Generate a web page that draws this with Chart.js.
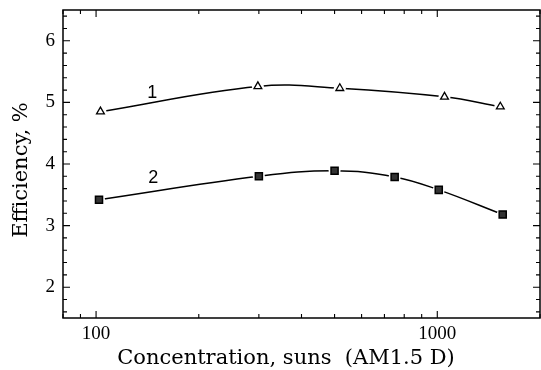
<!DOCTYPE html>
<html>
<head>
<meta charset="utf-8">
<script src="https://cdn.jsdelivr.net/npm/chart.js@4.4.1/dist/chart.umd.min.js"></script>
<style>
  html, body { margin: 0; padding: 0; background: #fff; }
  #wrap { width: 541px; height: 370px; }
</style>
</head>
<body>
<div id="wrap"><canvas id="effChart"></canvas></div>
<script>
// ── DATA ──────────────────────────────────────
const concentration1 = [103, 298, 518, 1050, 1530];
const efficiency1    = [4.85, 5.26, 5.23, 5.09, 4.93];

const concentration2 = [102, 300, 500, 750, 1010, 1555];
const efficiency2    = [3.42, 3.80, 3.89, 3.79, 3.58, 3.18];

const xTickValues = [100, 1000];
const yTickValues = [2, 3, 4, 5, 6];

const curveLabels = [
    { text: '1', x: 146, y: 5.16 },
    { text: '2', x: 147, y: 3.78 }
];

const xTitle = 'Concentration, suns  (AM1.5 D)';
const yTitle = 'Efficiency, %';

// ── HELPERS ───────────────────────────────────
const toPoints = (xs, ys) => xs.map((x, i) => ({ x, y: ys[i] }));

// no extra room for half tick labels at the ends
const noEdgePadding = s => {
    s.paddingTop = 0; s.paddingBottom = 0;
    s.paddingLeft = 0; s.paddingRight = 0;
};

// frame with inward ticks, curve numbers and axis titles
const framePlugin = {
    id: 'frame',
    afterDraw(chart) {
        const { ctx, chartArea: a, scales: { x, y } } = chart;
        ctx.save();
        ctx.strokeStyle = '#000';
        ctx.lineWidth = 1.5;
        ctx.strokeRect(a.left, a.top, a.right - a.left, a.bottom - a.top);

        ctx.lineWidth = 1.1;
        ctx.beginPath();
        for (let i = 8; i <= 32; i++) {
            const py = y.getPixelForValue(i / 5);
            const len = i % 5 === 0 ? 7 : 4;
            ctx.moveTo(a.left, py);  ctx.lineTo(a.left + len, py);
            ctx.moveTo(a.right, py); ctx.lineTo(a.right - len, py);
        }
        for (let dec = 10; dec <= 1000; dec *= 10) {
            for (let m = 1; m <= 9; m++) {
                const v = dec * m;
                if (v < x.min || v > x.max) continue;
                const px = x.getPixelForValue(v);
                const len = m === 1 ? 7 : 4;
                ctx.moveTo(px, a.bottom); ctx.lineTo(px, a.bottom - len);
                ctx.moveTo(px, a.top);    ctx.lineTo(px, a.top + len);
            }
        }
        ctx.stroke();

        ctx.fillStyle = '#000';
        ctx.textAlign = 'center';
        ctx.textBaseline = 'middle';
        ctx.font = '18px "Liberation Sans"';
        curveLabels.forEach(l => {
            ctx.fillText(l.text, x.getPixelForValue(l.x), y.getPixelForValue(l.y));
        });

        ctx.textBaseline = 'alphabetic';
        ctx.font = '21px "DejaVu Serif"';
        ctx.fillText(xTitle, 286, 364);
        ctx.translate(27, 170);
        ctx.rotate(-Math.PI / 2);
        ctx.fillText(yTitle, 0, 0);
        ctx.restore();
    }
};

const lineSet = (data) => ({
    data,
    borderColor: '#000',
    borderWidth: 1.5,
    tension: 0.4,
    pointRadius: 6,
    pointStyle: 'circle',
    pointBackgroundColor: '#fff',
    pointBorderWidth: 0,
    order: 2
});

new Chart(document.getElementById('effChart').getContext('2d'), {
    type: 'line',
    data: {
        datasets: [
            lineSet(toPoints(concentration1, efficiency1)),
            lineSet(toPoints(concentration2, efficiency2)),
            {
                data: toPoints(concentration1, efficiency1),
                showLine: false,
                pointStyle: 'triangle',
                pointRadius: 4.5,
                pointBackgroundColor: '#fff',
                pointBorderColor: '#000',
                pointBorderWidth: 1.3,
                order: 1
            },
            {
                data: toPoints(concentration2, efficiency2),
                showLine: false,
                pointStyle: 'rect',
                pointRadius: 5,
                pointBackgroundColor: '#333',
                pointBorderColor: '#000',
                pointBorderWidth: 1.5,
                order: 1
            }
        ]
    },
    options: {
        responsive: true,
        maintainAspectRatio: false,
        animation: false,
        events: [],
        layout: { autoPadding: false, padding: { left: 0, top: 10, right: 1, bottom: 0 } },
        plugins: { legend: { display: false }, tooltip: { enabled: false } },
        scales: {
            x: {
                type: 'logarithmic',
                min: 80, max: 2000,
                grid: { display: false, drawTicks: false },
                border: { display: false },
                afterBuildTicks: s => { s.ticks = xTickValues.map(v => ({ value: v })); },
                afterFit: s => { s.height = 52; noEdgePadding(s); },
                ticks: {
                    color: '#000', padding: 5, maxRotation: 0,
                    font: { family: '"Liberation Serif"', size: 19 },
                    callback: v => String(v)
                }
            },
            y: {
                min: 1.5, max: 6.5,
                grid: { display: false, drawTicks: false },
                border: { display: false },
                afterBuildTicks: s => { s.ticks = yTickValues.map(v => ({ value: v })); },
                afterFit: s => { s.width = 63; noEdgePadding(s); },
                ticks: {
                    color: '#000', padding: 8,
                    font: { family: '"Liberation Serif"', size: 19 }
                }
            }
        }
    },
    plugins: [framePlugin]
});
</script>
</body>
</html>
